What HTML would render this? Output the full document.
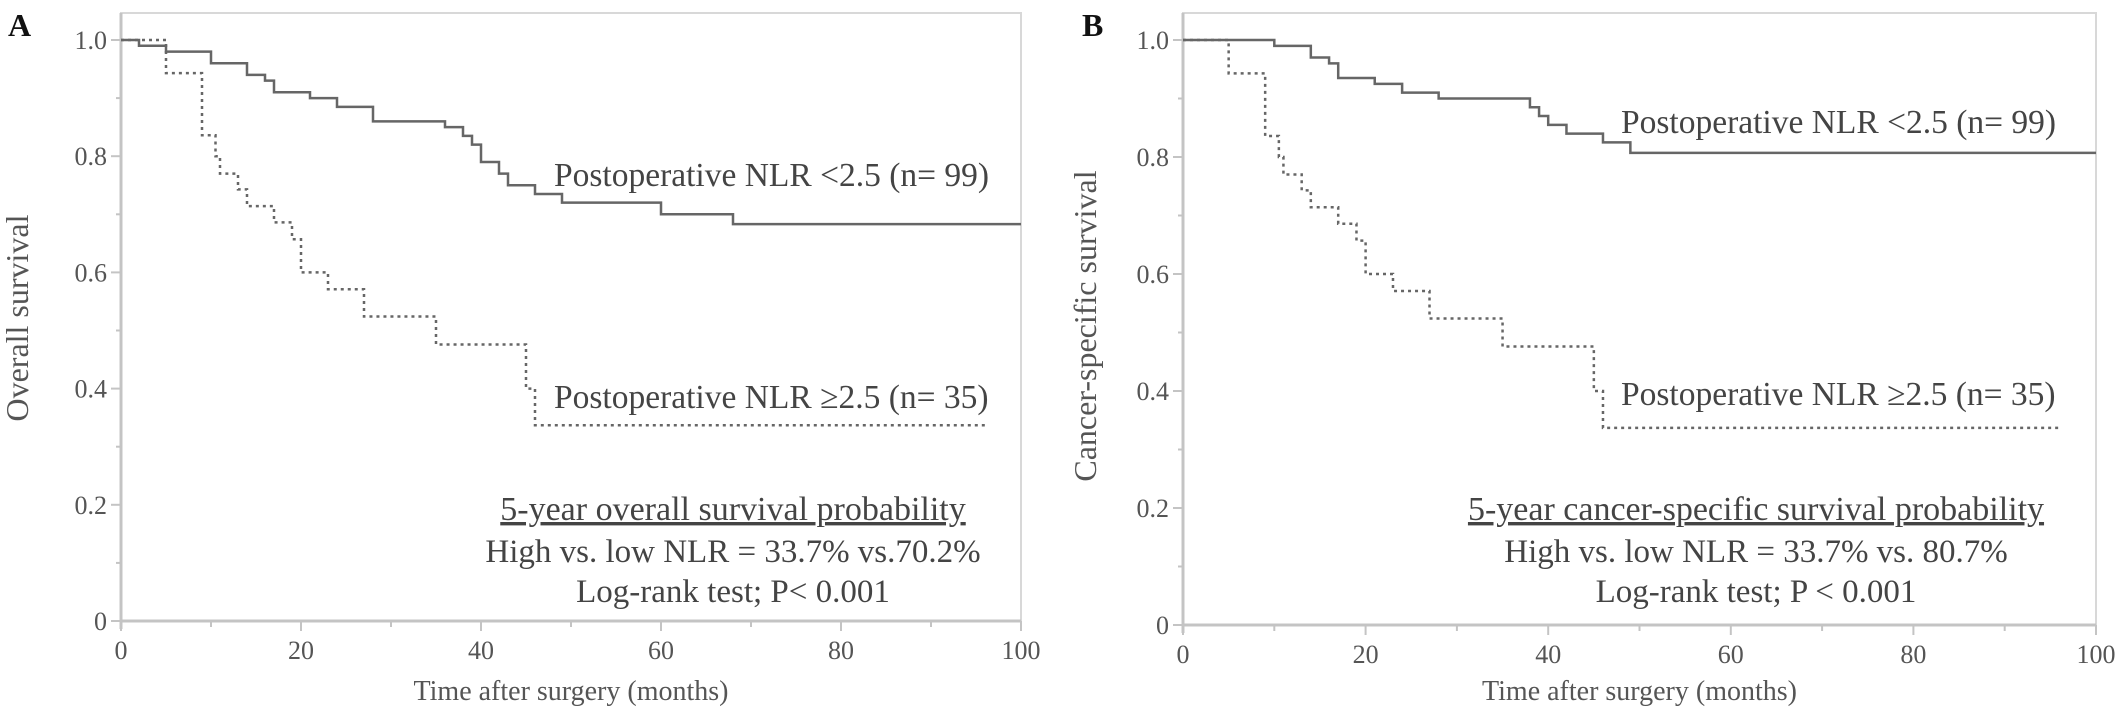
<!DOCTYPE html>
<html><head><meta charset="utf-8"><style>
html,body{margin:0;padding:0;background:#fff;}
svg{display:block;font-family:"Liberation Serif",serif;}
</style></head><body>
<svg id="chart" width="2126" height="721" viewBox="0 0 2126 721" xmlns="http://www.w3.org/2000/svg"></svg>
<script>
// shared
const xTicks = [0,20,40,60,80,100];
const yTicks = [0,0.2,0.4,0.6,0.8,1.0];
const yTickLabels = ["0","0.2","0.4","0.6","0.8","1.0"];
// Panel A: step times and survival values
const aLowTimes = [0,2,5,10,14,16,17,21,24,28,36,38,39,40,42,43,46,49,60,68,100];
const aLowSurv  = [1.0,0.99,0.98,0.96,0.94,0.93,0.91,0.90,0.885,0.86,0.85,0.835,0.82,0.79,0.77,0.75,0.735,0.72,0.70,0.683,0.683];
const aHighTimes = [0,5,9,10.5,11,13,14,17,19,20,23,27,35,45,46,96];
const aHighSurv  = [1.0,0.943,0.836,0.80,0.77,0.743,0.714,0.686,0.657,0.60,0.571,0.524,0.476,0.40,0.337,0.337];
// Panel B
const bLowTimes = [0,10,14,16,17,21,24,28,38,39,40,42,46,49,100];
const bLowSurv  = [1.0,0.99,0.97,0.96,0.935,0.925,0.91,0.90,0.885,0.87,0.855,0.84,0.825,0.807,0.807];
const bHighTimes = [0,5,9,10.5,11,13,14,17,19,20,23,27,35,45,46,96];
const bHighSurv  = [1.0,0.943,0.836,0.80,0.77,0.743,0.714,0.686,0.657,0.60,0.571,0.524,0.476,0.40,0.337,0.337];

const svg = document.getElementById('chart');
const NS = 'http://www.w3.org/2000/svg';
function el(tag, attrs, parent){const e=document.createElementNS(NS,tag);for(const k in attrs)e.setAttribute(k,attrs[k]);(parent||svg).appendChild(e);return e;}
function txt(s, attrs, parent){const t=el('text',attrs,parent);t.textContent=s;return t;}

function panel(p){
  const g = el('g',{});
  
  
  const X = v => p.x0 + (p.x1-p.x0)*v/100;
  const Y = v => p.y0 - (p.y0-p.y1)*v;
  const fr = el('rect',{x:p.x0,y:13,width:p.x1-p.x0,height:p.y0-13,fill:'none',stroke:'#d8d8d8','stroke-width':2},g);
  
  
  const xa = el('line',{x1:p.x0,y1:p.y0,x2:p.x1,y2:p.y0,stroke:'#c4c4c4','stroke-width':3},g);
  
  
  const ya = el('line',{x1:p.x0,y1:13,x2:p.x0,y2:p.y0+8,stroke:'#c4c4c4','stroke-width':3},g);
  
  
  for(let i=0;i<=10;i++){
    const v=i*10;
    el('line',{x1:X(v),y1:p.y0,x2:X(v),y2:p.y0+(i%2?6:10),stroke:'#c4c4c4','stroke-width':2},g);
    const yv=i/10;
    el('line',{x1:p.x0,y1:Y(yv),x2:p.x0-(i%2?5:10),y2:Y(yv),stroke:'#c4c4c4','stroke-width':2},g);
  }
  xTicks.forEach(v=>{
    const t=txt(String(v),{x:X(v),y:p.y0+38,'text-anchor':'middle','font-size':26,fill:'#555'},g);
    
    
  });
  yTicks.forEach((v,i)=>{
    const t=txt(yTickLabels[i],{x:p.x0-14,y:Y(v)+9,'text-anchor':'end','font-size':26,fill:'#555'},g);
    
    
  });
  const xt=txt('Time after surgery (months)',{x:(p.x0+p.x1)/2,y:700,'text-anchor':'middle','font-size':28,fill:'#555'},g);
  
  
  const yt=txt(p.ytitle,{x:0,y:0,'text-anchor':'middle','font-size':32,fill:'#555',transform:`translate(${p.ytx},${p.yty}) rotate(-90)`},g);
  
  
  const lt=txt(p.letter,{x:p.lx,y:36,'font-size':32,'font-weight':'bold',fill:'#111'},g);
  
  
  function step(times, surv){
    let d=`M${X(times[0])},${Y(surv[0])}`;
    for(let i=1;i<times.length;i++){d+=` H${X(times[i])} V${Y(surv[i])}`;}
    return d;
  }
  const l1=el('path',{d:step(p.lowT,p.lowS),fill:'none',stroke:'#666','stroke-width':2.5},g);
  
  
  const l2=el('path',{d:step(p.highT,p.highS),fill:'none',stroke:'#666','stroke-width':2.5,'stroke-dasharray':'3,4'},g);
  
  
  const c1=txt('Postoperative NLR <2.5 (n= 99)',{x:p.c1x,y:p.c1y,'font-size':33.5,fill:'#444'},g);
  
  
  const c2=txt('Postoperative NLR \u22652.5 (n= 35)',{x:p.c1x,y:p.c2y,'font-size':33.5,fill:'#444'},g);
  
  
  const s1=txt(p.sum1,{x:p.sx,y:520,'text-anchor':'middle','font-size':34,fill:'#444','text-decoration':'underline'},g);
  
  
  const s2=txt(p.sum2,{x:p.sx,y:562,'text-anchor':'middle','font-size':33,fill:'#444'},g);
  
  
  const s3=txt(p.sum3,{x:p.sx,y:602,'text-anchor':'middle','font-size':33,fill:'#444'},g);
  
  
}
panel({name:'panel-a',x0:121,x1:1021,y0:621,y1:40,letter:'A',lx:8,ytitle:'Overall survival',ytx:28,yty:318,
  lowT:aLowTimes,lowS:aLowSurv,highT:aHighTimes,highS:aHighSurv,c1x:554,c1y:186,c2y:408,sx:733,
  sum1:'5-year overall survival probability',sum2:'High vs. low NLR = 33.7% vs.70.2%',sum3:'Log-rank test;  P< 0.001'});
panel({name:'panel-b',x0:1183,x1:2096,y0:625,y1:40,letter:'B',lx:1082,ytitle:'Cancer-specific survival',ytx:1096,yty:326,
  lowT:bLowTimes,lowS:bLowSurv,highT:bHighTimes,highS:bHighSurv,c1x:1621,c1y:133,c2y:405,sx:1756,
  sum1:'5-year cancer-specific survival probability',sum2:'High vs. low NLR = 33.7% vs. 80.7%',sum3:'Log-rank test;  P < 0.001'});
</script>
</body></html>
